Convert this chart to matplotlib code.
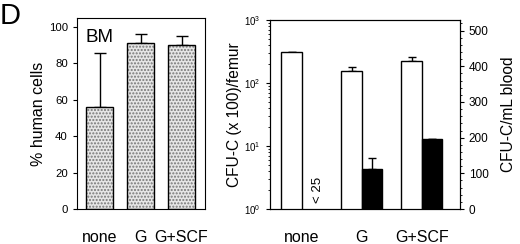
import matplotlib
matplotlib.use("Agg")
import matplotlib.pyplot as plt
from matplotlib.ticker import MultipleLocator, LogLocator, NullFormatter
import numpy as np

plt.rcParams['font.family'] = ['Liberation Sans', 'DejaVu Sans']

groups = ["none", "G", "G+SCF"]

# left panel: % human cells in BM
pct_human = [56, 91, 90]
pct_err = [30, 5, 5]

# right panel: CFU-C (x100)/femur (log) and CFU-C/mL blood (linear)
cfu_femur = [310, 157, 227]
cfu_femur_err = [5, 20, 30]
cfu_blood = [np.nan, 112, 195]
cfu_blood_err = [0, 30, 0]

fig = plt.figure(figsize=(5.2, 2.44), dpi=100)

# ---- left panel
ax1 = fig.add_axes([0.148, 0.1434, 0.246, 0.783])
x = np.arange(len(groups))
ax1.bar(x, pct_human, width=0.66, color='#e6e6e6', edgecolor='#777777',
        hatch='.....', linewidth=0, zorder=2)
ax1.bar(x, pct_human, width=0.66, fill=False, edgecolor='black', linewidth=1.0, zorder=3)
ax1.errorbar(x, pct_human, yerr=[np.zeros(3), pct_err], fmt='none', ecolor='black',
             elinewidth=1.0, capsize=4.5, capthick=1.0, zorder=1)
ax1.set_xlim(-0.55, 2.57)
ax1.set_ylim(0, 105)
ax1.yaxis.set_major_locator(MultipleLocator(20))
ax1.set_xticks(x)
ax1.set_xticklabels(groups, fontsize=11.5)
ax1.tick_params(axis='x', length=0, pad=15)
ax1.tick_params(axis='y', direction='out', length=3, labelsize=8.2)
ax1.set_ylabel("% human cells", fontsize=11.5, labelpad=2)
ax1.text(0.07, 0.94, "BM", transform=ax1.transAxes, fontsize=13.5, va='top', ha='left')

# ---- right panel
ax2 = fig.add_axes([0.519, 0.1434, 0.365, 0.775])
w = 0.34
ax2.bar(x - w / 2, cfu_femur, width=w, color='white', edgecolor='black', linewidth=1.0,
        bottom=0, zorder=2)
ax2.errorbar(x - w / 2, cfu_femur, yerr=[np.zeros(3), cfu_femur_err], fmt='none',
             ecolor='black', elinewidth=1.0, capsize=3, capthick=1.0, zorder=1)
ax2.set_yscale('log')
ax2.set_ylim(1, 1000)
ax2.set_xlim(-0.533, 2.633)
ax2.yaxis.set_major_locator(LogLocator(base=10, numticks=5))
ax2.yaxis.set_minor_locator(LogLocator(base=10, subs=np.arange(2, 10), numticks=10))
ax2.yaxis.set_minor_formatter(NullFormatter())
ax2.tick_params(axis='y', which='major', direction='out', length=3, labelsize=7)
ax2.tick_params(axis='y', which='minor', direction='out', length=1.5)
ax2.set_xticks(x)
ax2.set_xticklabels(groups, fontsize=11.5)
ax2.tick_params(axis='x', length=0, pad=15)
ax2.set_ylabel("CFU-C (x 100)/femur", fontsize=11.2, labelpad=2)

ax3 = ax2.twinx()
ax3.bar(x + w / 2, cfu_blood, width=w, color='black', edgecolor='black', linewidth=1.0, zorder=2)
ax3.errorbar(x + w / 2, cfu_blood, yerr=[np.zeros(3), cfu_blood_err], fmt='none',
             ecolor='black', elinewidth=1.0, capsize=3, capthick=1.0, zorder=1)
ax3.set_ylim(0, 530)
ax3.yaxis.set_major_locator(MultipleLocator(100))
ax3.yaxis.set_minor_locator(MultipleLocator(20))
ax3.tick_params(axis='y', which='major', direction='out', length=3, labelsize=8.5)
ax3.tick_params(axis='y', which='minor', direction='out', length=1.5)
ax3.set_ylabel("CFU-C/mL blood", fontsize=11.2, labelpad=9)
ax3.text(0 + 0.27, 53, "< 25", rotation=90, fontsize=9.5, ha='center', va='center')

fig.text(0.0, 0.99, "D", fontsize=21, va='top', ha='left')

fig.savefig("out.png", dpi=100)
